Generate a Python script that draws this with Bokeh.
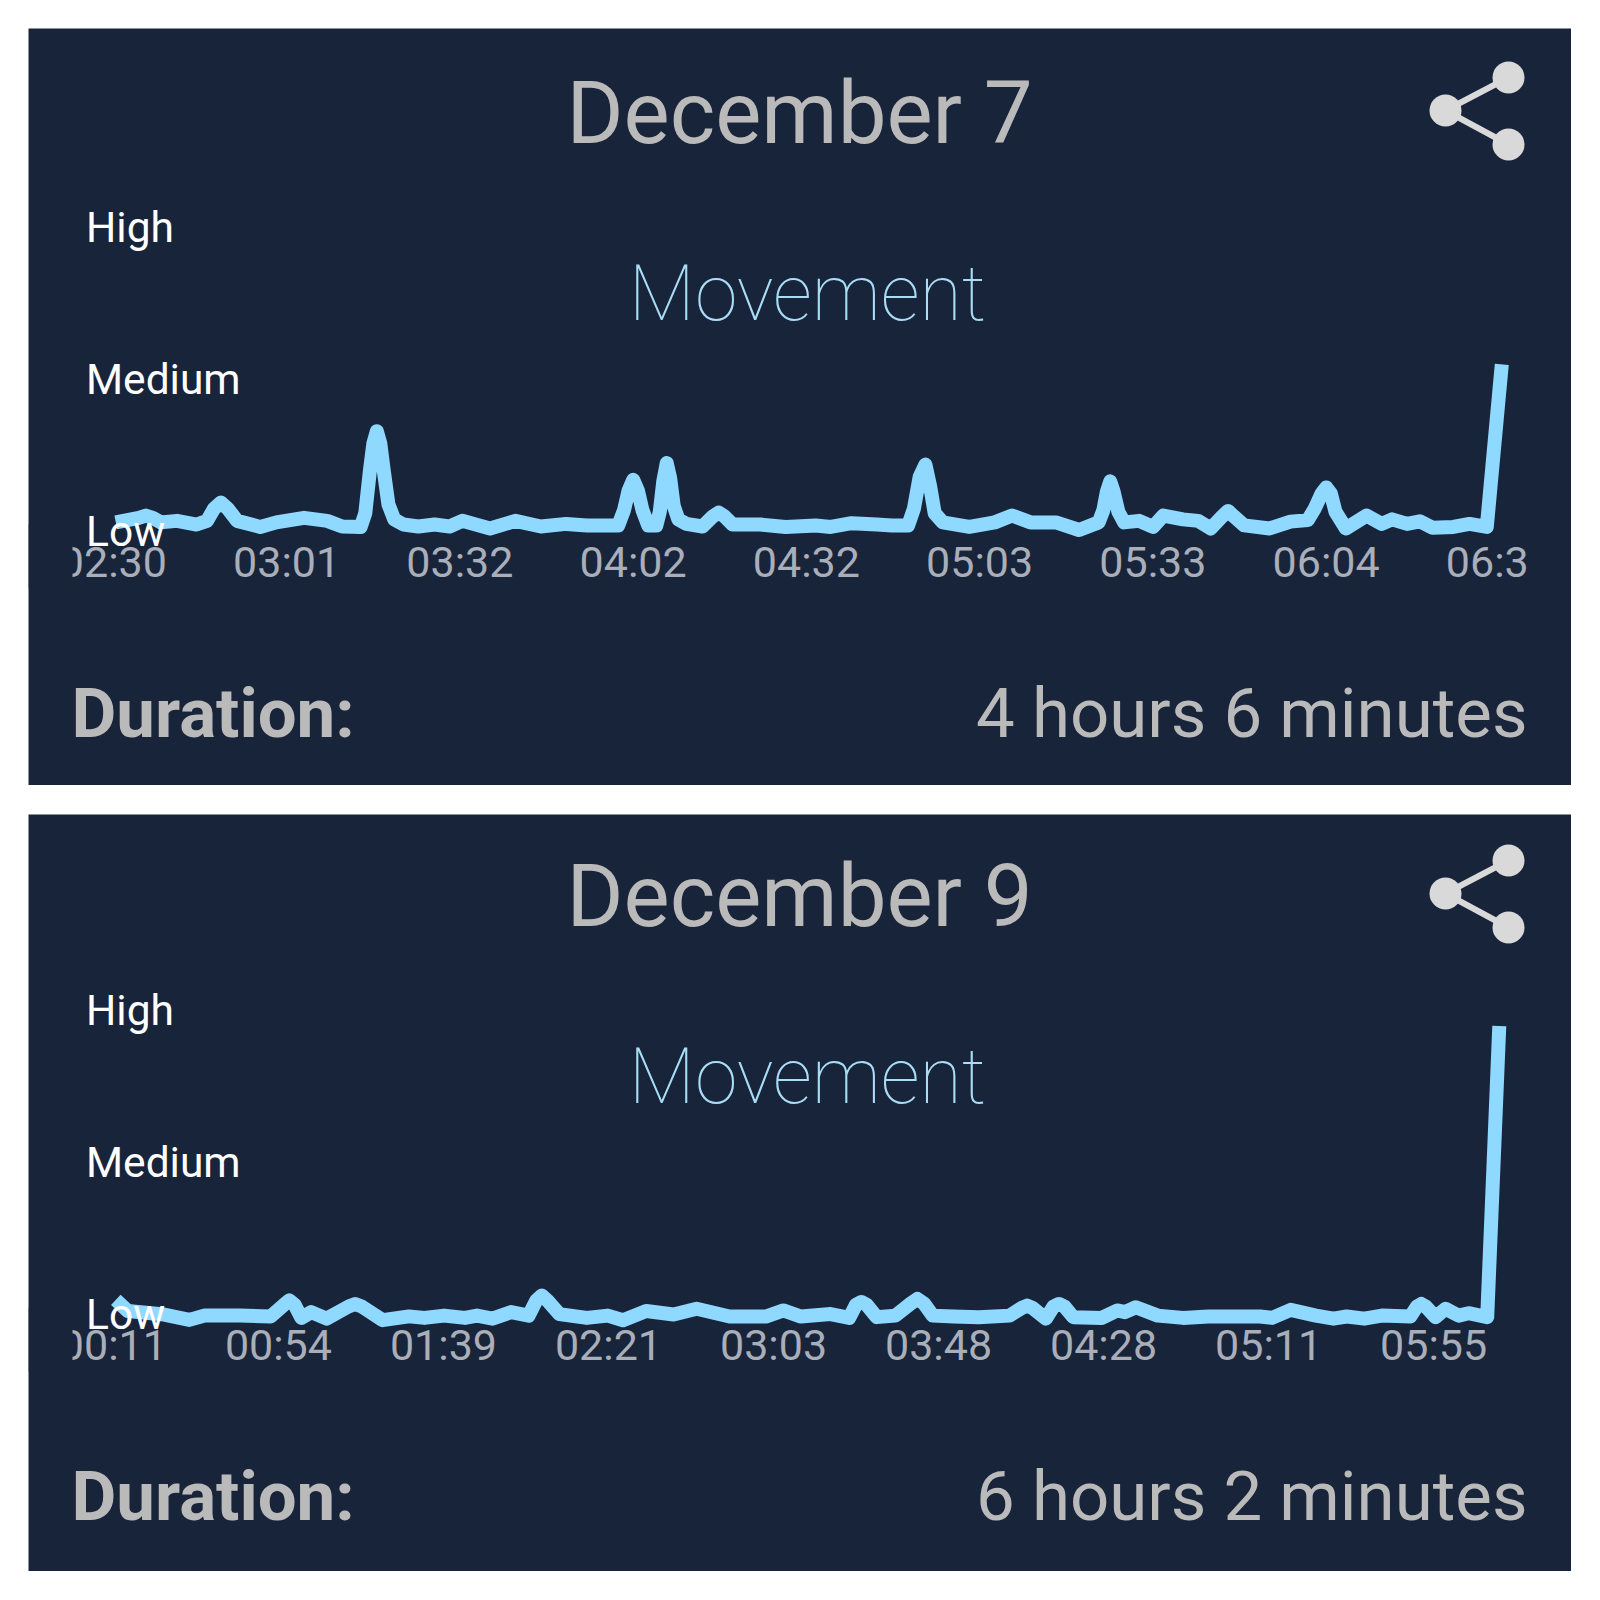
from bokeh.plotting import figure
from bokeh.layouts import column
from bokeh.models import Label, BoxAnnotation, FixedTicker, Range1d
from bokeh.embed import file_html
from bokeh.resources import INLINE

# Sample index (15 samples per tick) and movement level (0 Low, 1 Medium, 2 High)
dec7_x = [0, 2.0, 2.6, 3.2, 3.9, 5.3, 7.0, 7.9, 8.5, 9.1, 9.7, 10.5, 12.5, 13.9, 16.3, 18.3, 19.6, 21.2, 21.6, 22.0, 22.3, 22.6, 22.9, 23.2, 23.6, 24.1, 24.9,
          26.2, 27.6, 28.9, 30.0, 32.4, 34.6, 36.8, 39.0, 40.8, 43.5, 44.0, 44.4, 44.8, 45.2, 45.6, 46.1, 46.8, 47.1, 47.4, 47.7, 48.0, 48.3, 48.7, 49.4,
          50.8, 51.7, 52.2, 52.7, 53.4, 55.8, 58.0, 60.6, 61.9, 63.7, 65.9, 67.2, 68.6, 69.1, 69.6, 70.1, 70.5, 70.9, 71.6, 73.9, 76.1, 77.6,
          79.2, 81.4, 83.4, 85.1, 85.5, 85.8, 86.1, 86.4, 86.8, 87.3, 88.6, 89.8, 90.7, 92.4, 93.7, 94.8, 95.8, 96.3, 96.8, 97.7, 99.9, 101.7,
          103.2, 103.8, 104.4, 104.8, 105.2, 105.6, 106.5, 108.3, 109.6, 110.5, 111.8, 112.9, 114.0, 115.8, 117.2, 118.7, 120]
dec7_y = [.06, .09, .105, .09, .06, .07, .046, .07, .15, .19, .15, .07, .03, .06, .09, .07, .033, .03, .12, .40, .58, .66, .58, .40, .18, .08, .046,
          .033, .046, .033, .07, .02, .07, .033, .05, .04, .04, .14, .27, .34, .27, .14, .04, .04, .13, .33, .45, .35, .17, .08, .05,
          .033, .10, .125, .10, .046, .046, .03, .04, .03, .055, .046, .04, .04, .15, .36, .44, .30, .12, .06, .03, .06, .105,
          .06, .06, .01, .06, .14, .26, .33, .26, .13, .06, .07, .03, .105, .08, .07, .02, .10, .135, .10, .04, .02, .065,
          .075, .15, .25, .29, .25, .13, .02, .105, .05, .08, .05, .067, .025, .03, .05, .03, 1.10]

dec9_x = [0, 1.1, 4.4, 6.7, 8.1, 11.3, 14.1, 15.3, 15.8, 16.3, 16.9, 17.8, 19.2, 21.2, 21.8, 22.4, 24.3, 26.7, 28.1, 29.9, 31.8, 32.9, 34.3, 36.0,
          37.6, 38.3, 38.8, 39.3, 40.4, 42.9, 44.8, 46.2, 48.3, 50.8, 52.9, 55.9, 59.2, 60.8, 62.4, 65.1, 66.8, 67.4, 67.9, 68.4, 69.3, 71.0,
          72.4, 73.0, 73.6, 74.4, 76.3, 78.6, 81.4, 82.5, 83.0, 83.5, 84.7, 85.4, 85.9, 86.4, 87.2, 89.8, 91.2, 91.9, 92.9, 94.9, 97.2, 99.5, 104.2, 105.3,
          107.0, 109.3, 110.9, 112.1, 113.7, 115.3, 117.9, 118.5, 118.9, 119.3, 120.2, 121.1, 122.3, 123.2, 124.9, 126]
dec9_y = [.094, .02, -.003, -.038, -.01, -.01, -.016, .06, .09, .06, -.025, .013, -.03, .05, .067, .05, -.04, -.015, -.025, -.01, -.025, -.01, -.03, .013,
          -.01, .09, .122, .09, 0, -.025, -.01, -.04, .02, -.003, .035, -.016, -.016, .024, -.016, 0, -.025, .06, .08, .06, -.02, -.01,
          .07, .10, .07, -.01, -.016, -.02, -.01, .04, .056, .04, -.03, .05, .067, .05, -.02, -.025, .024, .013, .045, -.01, -.025, -.016, -.016, -.025,
          .028, -.01, -.03, -.016, -.03, -.01, -.016, .05, .067, .05, -.02, .035, -.01, .006, -.02, 1.895]

dec7_ticks = ["02:30", "03:01", "03:32", "04:02", "04:32", "05:03", "05:33", "06:04", "06:36"]
dec9_ticks = ["00:11", "00:54", "01:39", "02:21", "03:03", "03:48", "04:28", "05:11", "05:55"]
levels = ["Low", "Medium", "High"]

BG = "#18243a"
LINE = "#8fd8ff"
GREY = "#bababa"
TICK = "#a9aeb9"
W, H = 1543, 757
FONT = "Roboto"


def panel(title, xs, ys, ticks, duration, low_rel, px_per_sample, tick_step, shift, margin):
    # low_rel: pixel row of the Low level measured from the panel top
    per_level = 152.0
    x0 = 115.3 - 28
    x_range = Range1d((0 - x0) / px_per_sample, (W - x0) / px_per_sample)
    y_range = Range1d((low_rel - H) / per_level, low_rel / per_level)
    p = figure(width=W, height=H, x_range=x_range, y_range=y_range, output_backend="svg",
               toolbar_location=None, background_fill_color=BG, border_fill_color=BG,
               outline_line_color=None, min_border_left=0, min_border_right=0, min_border_top=0,
               min_border_bottom=0, margin=margin)
    p.grid.visible = False
    p.yaxis.visible = False
    to_x = lambda rx: (rx - x0) / px_per_sample
    to_y = lambda ry: (low_rel - ry) / per_level

    tick_pos = [i * tick_step - 2.4 / px_per_sample for i in range(len(ticks))]
    ax = p.xaxis[0]
    ax.fixed_location = to_y(502 + shift)
    ax.ticker = FixedTicker(ticks=tick_pos)
    ax.major_label_overrides = dict(zip(tick_pos, ticks))
    ax.axis_line_color = None
    ax.major_tick_line_color = None
    ax.minor_tick_line_color = None
    ax.major_label_standoff = 0
    ax.major_label_text_font = FONT
    ax.major_label_text_font_size = "43px"
    ax.major_label_text_color = TICK

    p.line(xs, ys, line_color=LINE, line_width=14, line_join="round", line_cap="butt")

    # share icon
    ix = [to_x(1480), to_x(1417), to_x(1480)]
    iy = [to_y(49 + shift), to_y(82 + shift), to_y(116 + shift)]
    p.line(ix, iy, line_color="#d9d9d9", line_width=6)
    p.scatter(ix, iy, size=32, marker="circle", fill_color="#d9d9d9", line_color=None)

    # covers that crop the tick labels at the chart's view edges
    band_top = H - (496 + shift)
    band_bot = H - (560 + shift)
    for l, r in ((0, 44), (1499, W)):
        p.add_layout(BoxAnnotation(left=l, right=r, top=band_top, bottom=band_bot,
                                   left_units="screen", right_units="screen",
                                   top_units="screen", bottom_units="screen",
                                   fill_color=BG, fill_alpha=1, line_color=None, level="annotation"))

    def lab(text, rx, ry, size, color, align="left", font=FONT, style="normal"):
        p.add_layout(Label(x=rx, y=H - ry, x_units="screen", y_units="screen", text=text,
                           text_font=font, text_font_size=size, text_color=color, text_align=align,
                           text_baseline="alphabetic", text_font_style=style, level="overlay"))

    lab(title, 771, 84.5 + shift, "87px", GREY, "center")
    lab("Movement", 779, 265.5 + shift, "77px", "#a9ddf5", "center", font="Roboto Thin")
    lab("Duration:", 43, 684.5 + shift, "69px", GREY, style="bold")
    lab(duration, 1499, 684.5 + shift, "69px", GREY, "right")
    for i, t in enumerate(levels):
        p.add_layout(Label(x=57.5, y=i, x_units="screen", y_units="data", y_offset=0, text=t,
                           text_font=FONT, text_font_size="42.5px", text_color="#ffffff",
                           text_align="left", text_baseline="alphabetic", level="overlay"))
    return p


p1 = panel("December 7", dec7_x, dec7_y, dec7_ticks, "4 hours 6 minutes", 503.0, 11.55, 15, 0, (28, 0, 0, 28))
p2 = panel("December 9", dec9_x, dec9_y, dec9_ticks, "6 hours 2 minutes", 499.6, 10.98, 15.03, -3, (29, 0, 0, 28))

layout = column(p1, p2, spacing=0)
open("out.html", "w").write(file_html(layout, INLINE))
